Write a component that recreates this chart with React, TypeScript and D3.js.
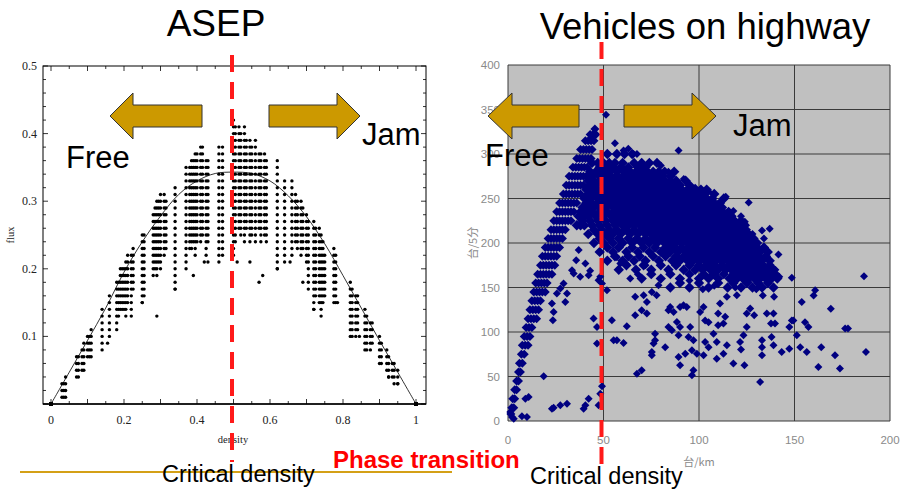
import React from "react";
import * as d3 from "d3";

// ---------- ASEP data (density, flux low, flux high; flux in 0.01 units) ----------
const asepColumns: [number, number, number][] = [
  [0.03, 1, 3], [0.035, 1, 3], [0.04, 1, 4],
  [0.07, 4, 7], [0.075, 4, 7], [0.085, 5, 8], [0.09, 5, 9], [0.1, 7, 10], [0.105, 7, 10], [0.11, 7, 11],
  [0.14, 8, 14], [0.16, 10, 16],
  [0.18, 11, 18], [0.185, 13, 18], [0.19, 14, 20], [0.195, 14, 20], [0.2, 14, 20], [0.205, 13, 21], [0.21, 15, 22], [0.22, 14, 22], [0.225, 17, 23],
  [0.25, 15, 25], [0.255, 16, 25],
  [0.28, 19, 28], [0.285, 20, 29], [0.29, 19, 30], [0.295, 21, 30], [0.3, 20, 31], [0.31, 22, 31], [0.315, 23, 30],
  [0.34, 17, 32],
  [0.37, 20, 35], [0.38, 23, 35], [0.385, 23, 36], [0.39, 24, 36], [0.395, 22, 37], [0.4, 24, 37], [0.41, 24, 38], [0.415, 25, 38], [0.425, 22, 36], [0.43, 24, 36],
  [0.46, 21, 38], [0.47, 22, 38],
  [0.5, 22, 42], [0.505, 24, 41], [0.515, 26, 41], [0.52, 25, 40], [0.53, 24, 41], [0.535, 26, 39], [0.545, 24, 39], [0.55, 25, 38], [0.56, 24, 39], [0.57, 26, 37], [0.575, 24, 37], [0.585, 25, 37], [0.59, 24, 36],
  [0.62, 20, 36],
  [0.64, 21, 33], [0.66, 22, 33],
  [0.67, 24, 31], [0.675, 23, 30], [0.685, 22, 30], [0.69, 23, 29], [0.7, 21, 28], [0.705, 17, 27],
  [0.72, 14, 27], [0.725, 16, 26], [0.735, 15, 26], [0.74, 14, 25], [0.745, 15, 24], [0.75, 16, 22],
  [0.775, 15, 23], [0.78, 15, 22],
  [0.82, 11, 18], [0.825, 10, 17], [0.835, 10, 16], [0.84, 11, 16],
  [0.86, 9, 14], [0.865, 8, 13], [0.875, 8, 12], [0.88, 9, 12],
  [0.9, 6, 10], [0.905, 6, 9], [0.92, 5, 8], [0.925, 4, 7], [0.935, 4, 6], [0.94, 3, 6], [0.95, 3, 5],
];
const asepIsolated: [number, number][] = [
  [0.155, 0.09], [0.22, 0.13], [0.25, 0.15], [0.29, 0.13], [0.34, 0.17], [0.39, 0.19], [0.42, 0.21],
  [0.43, 0.21], [0.51, 0.21], [0.545, 0.21], [0.57, 0.18], [0.58, 0.19], [0.62, 0.2], [0.655, 0.21],
  [0.69, 0.18], [0.72, 0.14], [0.74, 0.13], [0.785, 0.15], [0.82, 0.1], [0.845, 0.1], [0.86, 0.08],
  [0.925, 0.04], [0.95, 0.03],
];
const meanFieldDensity = [0, 0.05, 0.1, 0.15, 0.2, 0.25, 0.3, 0.35, 0.4, 0.45, 0.5, 0.55, 0.6, 0.65, 0.7, 0.75, 0.8, 0.85, 0.9, 0.95, 1];
const meanFieldFlux = [0, 0.047, 0.094, 0.142, 0.195, 0.24, 0.278, 0.31, 0.33, 0.341, 0.343, 0.341, 0.33, 0.308, 0.277, 0.237, 0.19, 0.142, 0.094, 0.047, 0];
const asepXTicks = [0, 0.2, 0.4, 0.6, 0.8, 1];
const asepYTicks = [0.1, 0.2, 0.3, 0.4, 0.5];

// ---------- Highway data (veh/km, veh/5min) ----------
const freeFlowRows: [number, number[]][] = [
  [8, [1.5]], [15, [2, 3]], [25, [2.5, 3.5]], [35, [3.5, 4.5]], [45, [4.5, 5.5]], [55, [5.5, 6.5]],
  [65, [6, 7.5]], [75, [7, 8.5]], [85, [7.5, 9, 10.5]], [95, [8.5, 10, 11.5]], [105, [9.5, 11, 12.5]],
  [115, [10.5, 12, 13.5, 15]], [125, [11.5, 13, 14.5, 16]], [135, [12.5, 14, 15.5, 17]],
  [145, [13.5, 15, 16.5, 18, 19.5]], [155, [14.5, 16, 17.5, 19, 20.5]], [165, [15.5, 17, 18.5, 20, 21.5, 23]],
  [175, [17, 18.5, 20, 21.5, 23, 24.5]], [185, [18, 19.5, 21, 22.5, 24, 25.5]], [195, [19.5, 21, 22.5, 24, 25.5, 27]],
  [205, [21, 22.5, 24, 25.5, 27, 28.5]], [215, [22.5, 24, 25.5, 27, 28.5, 30]], [225, [24, 25.5, 27, 28.5, 30, 31.5, 33]],
  [235, [25.5, 27, 28.5, 30, 31.5, 33, 34.5]], [245, [27, 28.5, 30, 31.5, 33, 34.5, 36]], [255, [29, 30.5, 32, 33.5, 35, 36.5, 38]],
  [265, [30.5, 32, 33.5, 35, 36.5, 38, 39.5]], [275, [32, 33.5, 35, 36.5, 38, 39.5, 41]], [285, [34, 35.5, 37, 38.5, 40, 41.5]],
  [295, [36, 37.5, 39, 40.5, 42, 43.5]], [305, [38, 39.5, 41, 42.5, 44]], [315, [40.5, 42, 43.5, 45]],
  [322, [43, 44.5, 46]], [328, [45.5]],
];
const congestedRows: [number, number[]][] = [
  [300, [52, 57, 61, 65]],
  [290, [44, 47, 50, 53, 56, 60, 66, 70, 74, 78]],
  [280, [43, 46, 50, 53, 57, 61, 64, 67, 70, 73, 76, 79, 82, 87]],
  [270, [42, 45, 48, 52, 55, 58, 61, 64, 67, 70, 73, 76, 79, 82, 85, 88, 93]],
  [260, [41, 44, 47, 52, 55, 58, 61, 64, 67, 70, 73, 76, 79, 82, 85, 88, 91, 94, 97, 101, 104]],
  [250, [40, 43, 47, 50, 53, 56, 59, 62, 65, 68, 71, 74, 77, 80, 83, 86, 89, 92, 95, 98, 101, 104, 107, 113]],
  [240, [39, 42, 45, 48, 51, 55, 58, 61, 64, 67, 70, 73, 76, 79, 82, 85, 88, 91, 94, 97, 100, 103, 106, 109, 112]],
  [230, [37, 40, 42, 46, 50, 54, 57, 60, 63, 66, 69, 72, 75, 78, 81, 84, 87, 90, 93, 96, 99, 102, 105, 108, 111, 114, 117]],
  [220, [36, 38, 40, 44, 48, 52, 56, 60, 63, 66, 69, 72, 75, 78, 81, 84, 87, 90, 93, 96, 99, 102, 105, 108, 111, 114, 117, 120, 124]],
  [210, [42, 47, 51, 55, 59, 64, 68, 72, 75, 78, 81, 84, 87, 90, 93, 96, 99, 102, 105, 108, 111, 114, 117, 120, 123, 126]],
  [200, [45, 50, 55, 60, 65, 70, 74, 78, 82, 85, 88, 91, 94, 97, 100, 103, 106, 109, 112, 115, 118, 121, 124, 127, 130]],
  [190, [48, 55, 62, 68, 74, 80, 85, 89, 93, 96, 99, 102, 105, 108, 111, 114, 117, 120, 123, 126, 129, 132, 136]],
  [180, [52, 60, 66, 72, 79, 86, 90, 94, 97, 100, 103, 106, 109, 112, 115, 118, 121, 124, 127, 130, 133, 137]],
  [170, [58, 67, 75, 84, 92, 98, 102, 106, 110, 114, 117, 120, 123, 126, 129, 132, 135, 139]],
  [160, [70, 80, 90, 100, 105, 110, 116, 120, 123, 126, 129, 132, 135, 138, 141]],
  [150, [85, 95, 105, 115, 122, 128, 133, 139]],
];
const congestedCoreRows: [number, number[]][] = [
  [285, [48, 51, 55, 59, 63, 68, 72]],
  [275, [44, 48, 51, 54, 57, 60, 63, 66, 69, 72, 75, 78, 81, 85]],
  [265, [43, 46, 50, 53.5, 56.5, 59.5, 62.5, 65.5, 68.5, 71.5, 74.5, 77.5, 80.5, 83.5, 86.5, 90, 95]],
  [255, [42, 45, 48.5, 51.5, 54.5, 57.5, 60.5, 63.5, 66.5, 69.5, 72.5, 75.5, 78.5, 81.5, 84.5, 87.5, 90.5, 93.5, 96.5, 99.5, 103, 108]],
  [245, [41, 44, 47, 50.5, 53.5, 56.5, 59.5, 62.5, 65.5, 68.5, 71.5, 74.5, 77.5, 80.5, 83.5, 86.5, 89.5, 92.5, 95.5, 98.5, 101.5, 104.5, 108, 111]],
  [235, [38, 41, 44, 48, 52, 55.5, 58.5, 61.5, 64.5, 67.5, 70.5, 73.5, 76.5, 79.5, 82.5, 85.5, 88.5, 91.5, 94.5, 97.5, 100.5, 103.5, 106.5, 109.5, 112.5, 115.5]],
  [225, [39, 43, 47, 51, 55, 58.5, 61.5, 64.5, 67.5, 70.5, 73.5, 76.5, 79.5, 82.5, 85.5, 88.5, 91.5, 94.5, 97.5, 100.5, 103.5, 106.5, 109.5, 112.5, 115.5, 118.5, 122]],
  [215, [45, 49, 53, 57, 61.5, 66, 70, 73.5, 76.5, 79.5, 82.5, 85.5, 88.5, 91.5, 94.5, 97.5, 100.5, 103.5, 106.5, 109.5, 112.5, 115.5, 118.5, 121.5, 124.5]],
  [205, [48, 53, 58, 63, 67.5, 72, 76, 80, 83.5, 86.5, 89.5, 92.5, 95.5, 98.5, 101.5, 104.5, 107.5, 110.5, 113.5, 116.5, 119.5, 122.5, 125.5, 128.5]],
  [195, [52, 58, 65, 71, 77, 82.5, 87, 91, 94.5, 97.5, 100.5, 103.5, 106.5, 109.5, 112.5, 115.5, 118.5, 121.5, 124.5, 127.5, 130.5, 134]],
  [185, [56, 63, 69, 76, 82.5, 88, 92, 95.5, 98.5, 101.5, 104.5, 107.5, 110.5, 113.5, 116.5, 119.5, 122.5, 125.5, 128.5, 131.5, 135]],
  [175, [62, 71, 80, 88, 95, 100, 104, 108, 112, 115.5, 118.5, 121.5, 124.5, 127.5, 130.5, 133.5, 137]],
  [165, [75, 85, 95, 102.5, 107.5, 113, 118, 121.5, 124.5, 127.5, 130.5, 133.5, 136.5, 140]],
  [155, [90, 100, 110, 118, 125, 131, 136]],
];
const scatterPoints: [number, number][] = [
  [51.3, 344], [89.3, 304], [60.5, 304], [65.7, 300], [67.5, 300], [126, 245.5], [114, 252], [124, 224],
  [133, 214], [137, 216], [141.6, 187], [148.6, 161], [186.4, 162.7], [187.4, 77.6], [173.8, 58.9],
  [171.2, 73.9], [169, 126], [176.5, 104], [178, 104], [162.5, 60.7], [164, 83], [160.8, 147], [160, 141],
  [157.3, 105.7], [155.5, 111], [153.8, 133.8], [151.2, 96.3], [156.4, 77.6], [153, 83], [148.6, 113],
  [149.4, 113], [147.3, 81.3], [143.3, 77.6], [147.3, 105.7], [132, 43.9], [123.8, 62.6], [118, 64.5],
  [133, 90.7], [133, 83], [133, 73.9], [135.5, 120.7], [139, 120.7], [137.7, 109.5], [139.8, 109.5],
  [133.4, 141], [139.3, 139.5], [138, 94.5], [139, 85.1], [126.8, 126.3], [125, 120.7], [128.9, 118.8],
  [125, 105.7], [123.3, 96.3], [121.5, 88.8], [122, 80.2], [114.6, 139.5], [119.8, 141.3], [111, 132],
  [110, 120.7], [113.7, 117], [110, 107.6], [112.8, 109.5], [109.3, 88.8], [114.6, 85.1], [112.8, 75.7],
  [109.3, 70], [107.6, 98], [103.2, 113], [105, 111], [100.6, 122.6], [102.4, 128.2], [103.2, 88.8],
  [105, 83], [102.4, 73.9], [98.9, 75.7], [97.1, 90.7], [96.3, 79.5], [97.1, 57], [96.3, 51.4],
  [95.4, 105.7], [94.5, 94.5], [90.1, 128.2], [91.9, 130], [93.6, 128.2], [88.4, 111.3], [90.1, 105.7],
  [89.3, 96.3], [90.1, 62.6], [89.3, 72], [92.8, 75.7], [84.9, 128.2], [84, 124.5], [86.7, 122.6],
  [84, 105.7], [85.8, 102], [82.3, 83], [77, 98], [76.2, 87], [75.3, 77.6], [75.3, 73.9], [77, 90.7],
  [71, 141.3], [72.7, 133.8], [75.3, 145], [77.8, 141.3], [78.8, 152.6], [66.6, 139.5], [66.6, 118.8],
  [70, 124.5], [72.7, 120.7], [62.2, 106.5], [55.3, 90.7], [57, 90.7], [60.5, 87.7], [54.4, 113.2],
  [51.8, 147], [67.5, 53.2], [70, 57], [46.6, 105.7], [44.8, 115.1], [46.6, 87], [49.2, 39], [48.3, 30.7],
  [47.4, 17.6], [42.2, 25.1], [39.6, 13.9], [40.5, 17.6], [30.9, 19.5], [27.4, 17.6], [23.9, 15], [23, 13.9],
  [18.7, 50.2], [10.8, 27], [9.1, 25.1], [7.3, 5.2], [9.9, 4.5], [1.2, 10.1], [2.1, 4.5], [3, 2.6],
  [23.9, 122.6], [23, 132], [23.5, 113.2], [25.6, 143.2], [27.4, 148.8], [29.1, 154.5], [30.9, 143.2],
  [30, 133.8], [33.5, 169.4], [34.4, 165.7], [35.7, 180.7], [37.8, 162], [40.5, 177], [42.2, 163.8],
  [43, 168.7], [37, 192], [49.2, 154.5], [48.3, 162], [47.4, 158.2], [57, 184], [58.8, 177], [62, 176],
  [64, 160], [68, 165], [72, 175], [85, 150], [95, 158], [102, 148], [108, 152], [119, 150], [126, 156],
  [130, 148], [56, 312], [63, 306], [71, 286], [80, 287], [84, 280], [92, 272], [98, 262], [105, 258],
  [110, 244], [118, 236], [122, 230], [128, 210], [131, 200], [134, 205], [140, 170], [142, 162],
];
const hwXTicks = [0, 50, 100, 150, 200];
const hwYTicks = [0, 50, 100, 150, 200, 250, 300, 350, 400];

const SANS = "'Liberation Sans', Arial, sans-serif";
const SERIF = "'Liberation Serif', 'Times New Roman', serif";
const CJK = "'Noto Sans CJK JP', sans-serif";

function arrowPath(tip: number, headBase: number, bodyEnd: number, yc: number) {
  const bh = 11, hh = 23;
  return `M${tip},${yc}L${headBase},${yc - hh}L${headBase},${yc - bh}L${bodyEnd},${yc - bh}L${bodyEnd},${yc + bh}L${headBase},${yc + bh}L${headBase},${yc + hh}Z`;
}

function diamond(r: number) {
  return `M0,${-r}L${r},0L0,${r}L${-r},0Z`;
}

export default function App() {
  const ax = d3.scaleLinear().domain([0, 1]).range([51, 416]);
  const ay = d3.scaleLinear().domain([0, 0.5]).range([404, 66]);
  const hx = d3.scaleLinear().domain([0, 200]).range([508, 890]);
  const hy = d3.scaleLinear().domain([0, 400]).range([421, 65]);

  const frame = { x0: 43, x1: 426, y0: 66, y1: 404 };

  const asepDots: [number, number][] = [];
  asepColumns.forEach(([d, lo, hi]) => {
    for (let f = lo; f <= hi; f++) asepDots.push([d, f / 100]);
  });
  asepIsolated.forEach((p) => asepDots.push(p));

  const mf = meanFieldDensity.map((d, i) => [d, meanFieldFlux[i]] as [number, number]);
  const mfLine = d3.line<[number, number]>().x((d) => ax(d[0])).y((d) => ay(d[1])).curve(d3.curveCatmullRom);

  const freePts: [number, number][] = [];
  freeFlowRows.forEach(([f, ds]) => ds.forEach((d) => freePts.push([d, f])));
  const jamPts: [number, number][] = [];
  congestedRows.forEach(([f, ds]) => ds.forEach((d) => jamPts.push([d, f])));
  congestedCoreRows.forEach(([f, ds]) => ds.forEach((d) => jamPts.push([d, f])));

  const xMinor = d3.range(0, 1.0001, 0.05);
  const yMinor = d3.range(0, 0.5001, 0.02);

  const diaFree = diamond(4.5);
  const diaJam = diamond(5.2);
  const diaSparse = diamond(4);

  return (
    <svg width={900} height={490} style={{ display: "block", position: "absolute", left: 0, top: 0, background: "#fff" }}>
      {/* Titles */}
      <text x={216} y={36} fontFamily={SANS} fontSize={37} textAnchor="middle" fill="#000">ASEP</text>
      <text x={705} y={39} fontFamily={SANS} fontSize={36.5} textAnchor="middle" fill="#000">Vehicles on highway</text>

      {/* ---------- ASEP panel ---------- */}
      <g>
        {xMinor.map((t, i) => {
          const len = i % 2 === 0 ? 5 : 3;
          return (
            <g key={"xt" + i} stroke="#000" strokeWidth={0.8}>
              <line x1={ax(t)} x2={ax(t)} y1={frame.y1} y2={frame.y1 - len} />
              <line x1={ax(t)} x2={ax(t)} y1={frame.y0} y2={frame.y0 + len} />
            </g>
          );
        })}
        {yMinor.map((t, i) => {
          const len = i % 5 === 0 ? 5 : 3;
          return (
            <g key={"yt" + i} stroke="#000" strokeWidth={0.8}>
              <line x1={frame.x0} x2={frame.x0 + len} y1={ay(t)} y2={ay(t)} />
              <line x1={frame.x1} x2={frame.x1 - len} y1={ay(t)} y2={ay(t)} />
            </g>
          );
        })}
        <rect x={frame.x0} y={frame.y0} width={frame.x1 - frame.x0} height={frame.y1 - frame.y0} fill="none" stroke="#000" strokeWidth={1} />
        <line x1={frame.x0} x2={frame.x1} y1={frame.y1} y2={frame.y1} stroke="#000" strokeWidth={1.6} />
        {asepYTicks.map((t) => (
          <text key={"yl" + t} x={37} y={ay(t) + 4} fontFamily={SERIF} fontSize={12} textAnchor="end" fill="#222">{t.toFixed(1)}</text>
        ))}
        {asepXTicks.map((t) => (
          <text key={"xl" + t} x={ax(t)} y={424} fontFamily={SERIF} fontSize={12} textAnchor="middle" fill="#222">{t === 0 || t === 1 ? String(t) : t.toFixed(1)}</text>
        ))}
        <text x={233} y={443} fontFamily={SERIF} fontSize={10.5} textAnchor="middle" fill="#222">density</text>
        <text transform="translate(14,235) rotate(-90)" fontFamily={SERIF} fontSize={10.5} textAnchor="middle" fill="#222">flux</text>

        {asepDots.map(([d, f], i) => (
          <circle key={"ad" + i} cx={ax(d)} cy={ay(f)} r={1.7} fill="#000" />
        ))}
        <path d={mfLine(mf) || ""} fill="none" stroke="#000" strokeWidth={0.8} />
        <rect x={ax(0) - 2} y={ay(0) - 2} width={4} height={4} fill="#000" />
        <rect x={ax(1) - 2} y={ay(0) - 2} width={4} height={4} fill="#000" />
      </g>

      {/* ---------- Highway panel ---------- */}
      <g>
        <rect x={hx(0)} y={hy(400)} width={hx(200) - hx(0)} height={hy(0) - hy(400)} fill="#c0c0c0" />
        {hwYTicks.map((t) => (
          <line key={"hg" + t} x1={hx(0)} x2={hx(200)} y1={hy(t)} y2={hy(t)} stroke="#3a3a3a" strokeWidth={1} />
        ))}
        {hwXTicks.map((t) => (
          <line key={"vg" + t} x1={hx(t)} x2={hx(t)} y1={hy(0)} y2={hy(400)} stroke="#3a3a3a" strokeWidth={1} />
        ))}
        {hwYTicks.map((t) => (
          <text key={"hyl" + t} x={500} y={hy(t) + 4} fontFamily={SANS} fontSize={11.5} textAnchor="end" fill="#8a8a8a">{t}</text>
        ))}
        {hwXTicks.map((t) => (
          <text key={"hxl" + t} x={hx(t)} y={444} fontFamily={SANS} fontSize={11.5} textAnchor="middle" fill="#8a8a8a">{t}</text>
        ))}
        <text x={699} y={466} fontFamily={CJK} fontSize={11} textAnchor="middle" fill="#8a8a8a">台/km</text>
        <text transform="translate(477,243) rotate(-90)" fontFamily={CJK} fontSize={11} textAnchor="middle" fill="#8a8a8a">台/5分</text>
        {freePts.map(([d, f], i) => (
          <path key={"hf" + i} d={diaFree} transform={`translate(${hx(d)},${hy(f)})`} fill="#000080" />
        ))}
        {jamPts.map(([d, f], i) => (
          <path key={"hj" + i} d={diaJam} transform={`translate(${hx(d)},${hy(f)})`} fill="#000080" />
        ))}
        {scatterPoints.map(([d, f], i) => (
          <path key={"hs" + i} d={diaSparse} transform={`translate(${hx(d)},${hy(f)})`} fill="#000080" />
        ))}
      </g>

      {/* red dashed critical-density lines */}
      <line x1={232} x2={232} y1={55} y2={462} stroke="#ff1a1a" strokeWidth={4} strokeDasharray="17 10" />
      <line x1={hx(50) - 2} x2={hx(50) - 2} y1={42} y2={466} stroke="#ff1a1a" strokeWidth={4} strokeDasharray="17 10" />

      {/* arrows */}
      <g fill="#cc9900" stroke="#333" strokeWidth={1}>
        <path d={arrowPath(110, 133, 202, 116)} />
        <path d={arrowPath(360, 337, 269, 116)} />
        <path d={arrowPath(488, 512, 579, 116)} />
        <path d={arrowPath(716, 692, 624, 116)} />
      </g>

      {/* phase labels */}
      <text x={66} y={168} fontFamily={SANS} fontSize={31} fill="#000">Free</text>
      <text x={362} y={145} fontFamily={SANS} fontSize={31} fill="#000">Jam</text>
      <text x={485} y={166} fontFamily={SANS} fontSize={31} fill="#000">Free</text>
      <text x={733} y={136} fontFamily={SANS} fontSize={31} fill="#000">Jam</text>

      {/* bottom annotations */}
      <line x1={20} x2={452} y1={472} y2={472} stroke="#d4a017" strokeWidth={2} />
      <text x={162} y={482} fontFamily={SANS} fontSize={23.5} fill="#000">Critical density</text>
      <text x={333} y={468} fontFamily={SANS} fontSize={24} fontWeight="bold" fill="#ff0000">Phase transition</text>
      <text x={530} y={484} fontFamily={SANS} fontSize={23.5} fill="#000">Critical density</text>
    </svg>
  );
}
